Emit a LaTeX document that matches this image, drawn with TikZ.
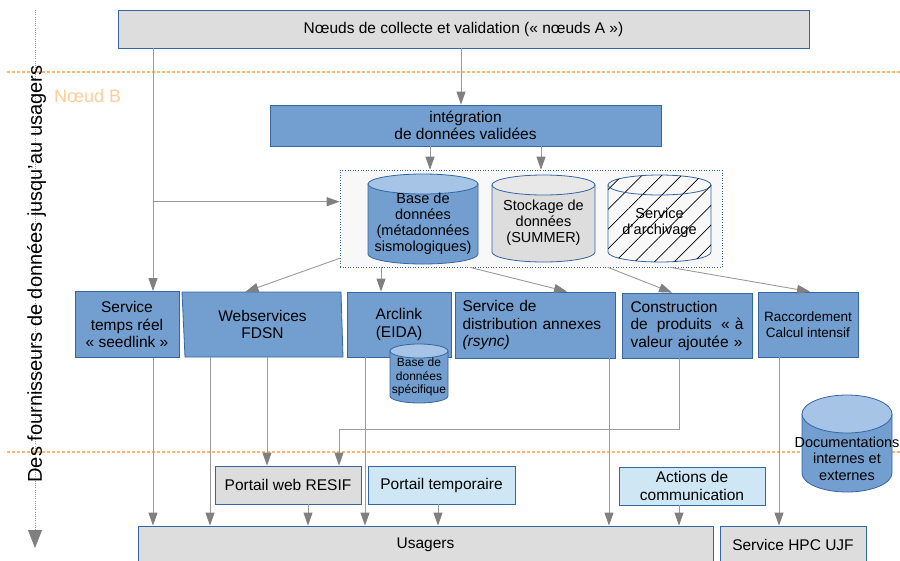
\documentclass[tikz,border=0pt]{standalone}
\usepackage{fontspec}
\setmainfont{Liberation Sans}
\usetikzlibrary{arrows.meta,patterns.meta}

\definecolor{bleu}{HTML}{729FCF}
\definecolor{bleutop}{HTML}{A6C4E6}
\definecolor{bordure}{HTML}{3465A4}
\definecolor{grisclair}{HTML}{DDDDDD}
\definecolor{gristop}{HTML}{E8E8E8}
\definecolor{bleuclair}{HTML}{CFE7F5}
\definecolor{fond}{HTML}{F8F8F8}
\definecolor{trait}{HTML}{9A9A9A}
\definecolor{pointe}{HTML}{808080}
\definecolor{orangeclair}{HTML}{FFB570}
\definecolor{orangepale}{HTML}{FFCC99}

\newcommand{\cylindre}[6]{

\begin{scope}[shift={#1}]
	\filldraw[draw=bordure, line width=0.8pt, #5] (-#2,#3) -- (-#2,#4-#3) arc (180:360:#2pt and #3pt) -- (#2,#3) -- cycle;
	\filldraw[draw=bordure, line width=0.8pt, #6] (0,#3) ellipse (#2pt and #3pt);
\end{scope}

}

\begin{document}
\begin{tikzpicture}[x=1pt, y=-1pt,
	every node/.style={font=\fontsize{15.5}{17.5}\selectfont, inner sep=0pt, align=center},
	boite/.style={draw=bordure, line width=0.8pt},
	bleue/.style={boite, fill=bleu},
	grise/.style={boite, fill=grisclair},
	claire/.style={boite, fill=bleuclair},
	cyltexte/.style={font=\fontsize{14.5}{16}\selectfont},
	fleche/.style={draw=trait, line width=0.9pt, -{Triangle[length=13pt,width=9pt,color=pointe]}},
	limite/.style={draw=orangeclair, line width=1.3pt, dash pattern=on 3pt off 2pt},
	hachures/.style={fill=fond, postaction={pattern={Lines[angle=45,distance=14pt,line width=0.7pt]}}}]

	\useasboundingbox (0,0) rectangle (900,560);
	\clip (0,0) rectangle (900,560);

	% limites des noeuds
	\draw[limite] (7,72) -- (900,72);
	\draw[limite] (7,452) -- (900,452);
	\node[anchor=west, text=orangepale, font=\fontsize{18}{20}\selectfont] (noeudB) at (54,96) {Nœud B};

	% sens de lecture
	\coordinate (haut) at (35,10);
	\coordinate (bas) at (35,548);
	\draw[draw=trait, line width=0.8pt, dash pattern=on 1pt off 1.2pt, -{Triangle[length=18pt,width=14pt,color=pointe]}] (haut) -- (bas);
	\node[rotate=90, font=\fontsize{20}{24}\selectfont] (sens) at (36.5,274) {Des fournisseurs de données jusqu'au usagers};

	% noeuds A et integration
	\node[grise, minimum width=691pt, minimum height=38pt] (collecte) at (463.5,29) {Nœuds de collecte et validation (« nœuds A »)};
	\node[bleue, minimum width=391pt, minimum height=41pt] (integration) at (465.5,125.5) {intégration\\de données validées};

	% stockage
	\node[draw=bordure, line width=0.6pt, dotted, fill=fond, minimum width=382pt, minimum height=97pt] (conteneur) at (531,218.5) {};
	\cylindre{(423,174)}{55}{10}{90}{fill=bleu}{fill=bleutop}
	\cylindre{(543.5,175)}{51.5}{10}{87}{fill=grisclair}{fill=gristop}
	\cylindre{(659.5,175)}{51.5}{10}{87}{hachures}{hachures}
	\node[cyltexte] (bdd) at (423,224) {Base de\\données\\(métadonnées\\sismologiques)};
	\node[cyltexte] (stockage) at (543.5,223) {Stockage de\\données\\(SUMMER)};
	\node[cyltexte] (archivage) at (659.5,223) {Service\\d'archivage};

	% services
	\node[bleue, minimum width=104pt, minimum height=66pt] (seedlink) at (127,324.5) {Service\\temps réel\\«~seedlink~»};
	\filldraw[fill=bleu, draw=bordure, line width=0.8pt] (182,292) -- (341,292) -- (343,357) -- (185,357) -- cycle;
	\node[minimum width=159pt, minimum height=65pt] (fdsn) at (262.5,324.5) {Webservices\\FDSN};
	\node[bleue, minimum width=104pt, minimum height=65pt] (arclink) at (399,324.5) {Arclink\\(EIDA)};
	\cylindre{(419,344)}{29}{7}{59}{fill=bleu}{fill=bleutop}
	\node[font=\fontsize{12}{13.5}\selectfont] (specifique) at (419,377) {Base de\\données\\spécifique};
	\node[bleue, minimum width=160pt, minimum height=66pt, text width=145pt, align=left] (rsync) at (535,325) {Service de\\distribution annexes\\\textit{(rsync)}};
	\node[bleue, minimum width=130pt, minimum height=65pt, text width=113pt, align=left] (produits) at (687,325.5) {Construction\\de\hfill produits\hfill «~à\\valeur ajoutée~»};
	\node[bleue, minimum width=100pt, minimum height=65pt, font=\fontsize{13.5}{15.5}\selectfont] (raccord) at (808,324.5) {Raccordement\\Calcul intensif};
	\cylindre{(847,395)}{45}{19}{97}{fill=bleu}{fill=bleutop}
	\node[font=\fontsize{14.5}{16.5}\selectfont] (doc) at (847,458.5) {Documentations\\internes et\\externes};

	% portails et usagers
	\node[grise, minimum width=146pt, minimum height=38pt] (portail) at (288,485) {Portail web RESIF};
	\node[claire, minimum width=147pt, minimum height=38pt] (temporaire) at (441.5,485) {Portail temporaire};
	\node[claire, minimum width=146pt, minimum height=38pt] (communication) at (692,486) {Actions de\\communication};
	\node[grise, minimum width=575pt, minimum height=38pt] (usagers) at (425.5,545) {Usagers};
	\node[grise, minimum width=146pt, minimum height=38pt] (ujf) at (793,545) {Service HPC UJF};

	% connecteurs
	\coordinate (c1) at ([xshift=-4.5pt]integration.north);
	\coordinate (c2) at ([xshift=26pt]seedlink.north);
	\coordinate (c3) at ([yshift=-32pt]conteneur.north west);
	\draw[fleche] (c1 |- collecte.south) -- (c1);
	\draw[fleche] (c2 |- collecte.south) -- (c2);
	\draw[fleche] (c3 -| c2) -- (c3);
	\foreach \dx [count=\i] in {-35.5, 75.5}
	{
		\coordinate (i\i) at ([xshift=\dx pt]integration.south);
		\draw[fleche] (i\i) -- (i\i |- conteneur.north);
	}
	; %end for
	\draw[fleche] ([yshift=9pt]conteneur.south west) -- ([xshift=-17pt]fdsn.north);
	\coordinate (a1) at ([xshift=-18pt]arclink.north);
	\draw[fleche] (a1 |- conteneur.south) -- (a1);
	\draw[fleche] ([xshift=130pt]conteneur.south west) -- ([xshift=32pt]rsync.north);
	\draw[fleche] ([xshift=268pt]conteneur.south west) -- ([xshift=-15pt]produits.north);
	\draw[fleche] ([xshift=330pt]conteneur.south west) -- ([xshift=2pt]raccord.north);

	% vers les usagers
	\draw[fleche] (c2 |- seedlink.south) -- (c2 |- usagers.north);
	\foreach \noeud/\dx in {fdsn/-52.5, arclink/-34, rsync/74, portail/20, temporaire/-3.5, communication/-13}
	{
		\coordinate (u) at ([xshift=\dx pt]\noeud.south);
		\draw[fleche] (u) -- (u |- usagers.north);
	}
	; %end for
	\coordinate (f2) at ([xshift=4.5pt]fdsn.south);
	\draw[fleche] (f2) -- (f2 |- portail.north);
	\coordinate (p2) at ([xshift=51pt]portail.north);
	\draw[fleche] ([xshift=-8pt]produits.south) -- ++(0,71) -| (p2);
	\coordinate (k1) at ([xshift=-29pt]raccord.south);
	\draw[fleche] (k1) -- (k1 |- ujf.north);

\end{tikzpicture}
\end{document}
